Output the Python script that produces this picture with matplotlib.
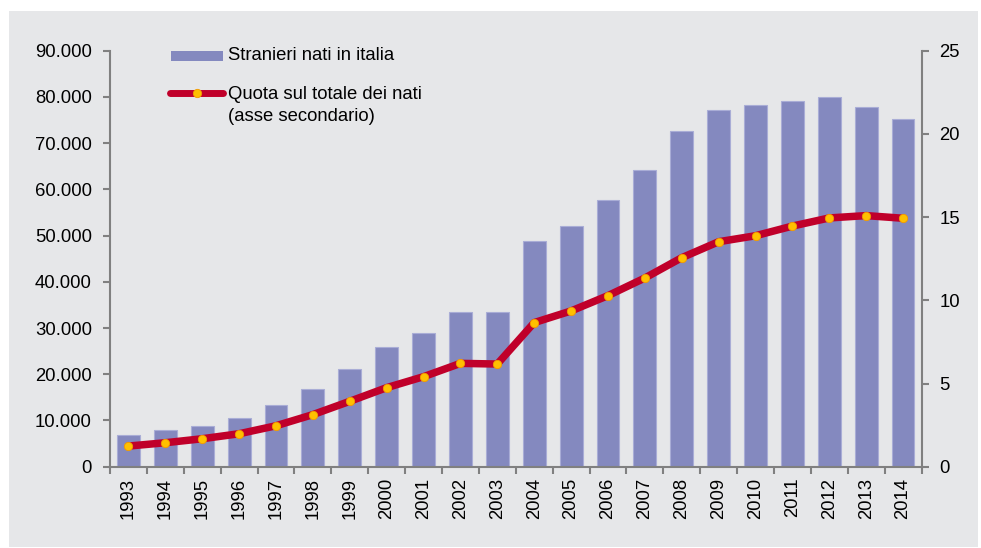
import matplotlib
matplotlib.use("Agg")
import matplotlib.pyplot as plt
from matplotlib.patches import Rectangle
from matplotlib.lines import Line2D
from matplotlib.ticker import FuncFormatter, FixedLocator
import numpy as np

plt.rcParams['font.family'] = ['Liberation Sans', 'DejaVu Sans']

# Data
anni = ['1993', '1994', '1995', '1996', '1997', '1998', '1999', '2000', '2001', '2002', '2003',
        '2004', '2005', '2006', '2007', '2008', '2009', '2010', '2011', '2012', '2013', '2014']
stranieri_nati = [6810, 7890, 8890, 10630, 13380, 16790, 21040, 25810, 28930, 33480, 33550,
                  48880, 51980, 57770, 64130, 72520, 77140, 78160, 79160, 79890, 77730, 75120]
quota_nati = [1.24, 1.44, 1.68, 1.98, 2.46, 3.13, 3.93, 4.75, 5.41, 6.21, 6.17,
              8.66, 9.36, 10.28, 11.34, 12.56, 13.52, 13.88, 14.46, 14.95, 15.09, 14.93]

label_barre = 'Stranieri nati in italia'
label_linea = 'Quota sul totale dei nati\n(asse secondario)'

bar_color = '#8489BF'
bar_edge = '#A9ADD6'
line_color = '#C0002A'
marker_color = '#FFC000'
marker_edge = '#F29A00'
bg_color = '#E6E7E9'
axis_color = '#808080'
fs = 13.3

W, H = 981, 548
fig = plt.figure(figsize=(W / 100, H / 100), dpi=100)
fig.patch.set_facecolor('white')


def fx(px):
    return px / W


def fy(py):
    return 1 - py / H


# grey panel behind the chart
fig.patches.append(Rectangle((fx(9), fy(547)), (978 - 9) / W, (547 - 11) / H,
                             transform=fig.transFigure, facecolor=bg_color,
                             edgecolor='none', zorder=-10))

left, right, top, bottom = 110, 921.5, 50.7, 466.7
ax = fig.add_axes([fx(left), fy(bottom), (right - left) / W, (bottom - top) / H])
ax.set_facecolor('none')

x = np.arange(len(anni))
ax.bar(x, stranieri_nati, width=0.62, color=bar_color, edgecolor=bar_edge,
       linewidth=0.8, zorder=2)
ax.set_xlim(-0.5, len(anni) - 0.5)
ax.set_ylim(0, 90000)
ax.yaxis.set_major_locator(FixedLocator(np.arange(0, 90001, 10000)))
ax.yaxis.set_major_formatter(FuncFormatter(lambda v, p: f"{int(v):,}".replace(',', '.')))

ax.set_xticks(x)
ax.set_xticklabels(anni, rotation=90)
ax.xaxis.set_minor_locator(FixedLocator(np.arange(-0.5, len(anni), 1.0)))
ax.tick_params(axis='x', which='major', length=0, pad=8, labelsize=fs)
ax.tick_params(axis='x', which='minor', length=5, width=1.5, color=axis_color, direction='out')
ax.tick_params(axis='y', length=5, width=1.5, color=axis_color, pad=8, labelsize=fs)

for s in ['top', 'right']:
    ax.spines[s].set_visible(False)
for s in ['left', 'bottom']:
    ax.spines[s].set_color(axis_color)
    ax.spines[s].set_linewidth(1.5)

ax2 = ax.twinx()
ax2.set_facecolor('none')
ax2.plot(x, quota_nati, color=line_color, linewidth=5.4, solid_joinstyle='round',
         solid_capstyle='round', marker='o', markersize=6.0, markerfacecolor=marker_color,
         markeredgecolor=marker_edge, markeredgewidth=0.6, zorder=3)
ax2.set_ylim(0, 25)
ax2.yaxis.set_major_locator(FixedLocator([0, 5, 10, 15, 20, 25]))
ax2.tick_params(axis='y', length=5, width=1.5, color=axis_color, pad=8, labelsize=fs)
for s in ['top', 'left', 'bottom']:
    ax2.spines[s].set_visible(False)
ax2.spines['right'].set_color(axis_color)
ax2.spines['right'].set_linewidth(1.5)

# legend
fig.patches.append(Rectangle((fx(171), fy(60.5)), 52 / W, 9.5 / H,
                             transform=fig.transFigure, facecolor=bar_color,
                             edgecolor='none', zorder=5))
fig.text(fx(227.5), fy(55.5), label_barre, fontsize=fs, va='center', ha='left')
fig.lines.append(Line2D([fx(170), fx(223)], [fy(92.7), fy(92.7)],
                        transform=fig.transFigure, color=line_color, linewidth=5.0,
                        solid_capstyle='round', zorder=5))
fig.lines.append(Line2D([fx(196.7)], [fy(92.7)], transform=fig.transFigure,
                        marker='o', markersize=6.0, markerfacecolor=marker_color,
                        markeredgecolor=marker_edge, markeredgewidth=0.6,
                        linestyle='none', zorder=6))
fig.text(fx(227.5), fy(86), label_linea, fontsize=fs, va='top', ha='left',
         linespacing=1.35)

fig.savefig('out.png', dpi=100, facecolor='white')
